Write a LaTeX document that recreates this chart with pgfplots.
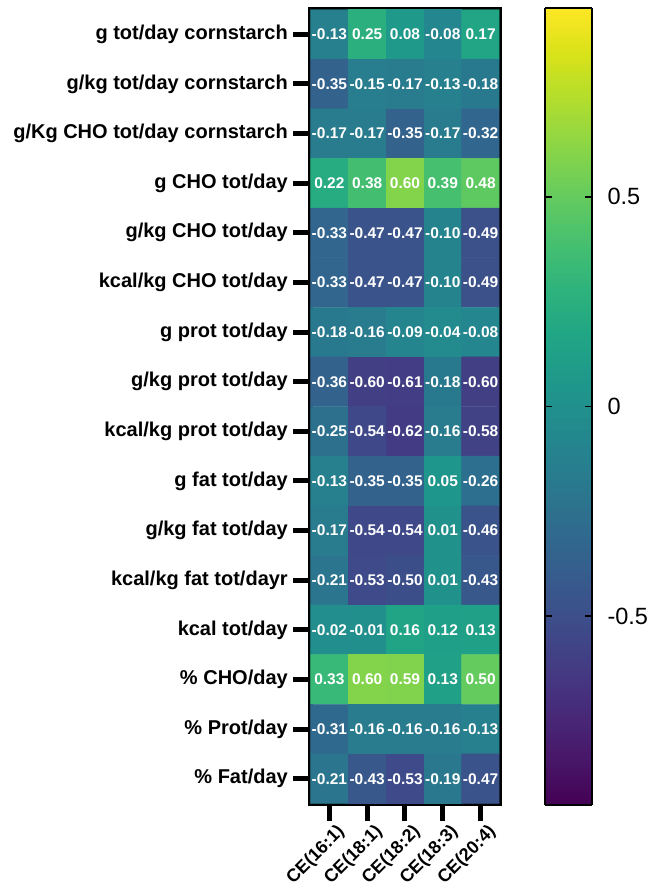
\documentclass[border=0pt]{standalone}
\usepackage{fontspec}
\setmainfont{Liberation Sans}
\usepackage{pgfplots}
\pgfplotsset{compat=1.18}
\usepgfplotslibrary{colormaps}

\pgfplotstableread{
x y c
0 0 -0.13
1 0 0.25
2 0 0.08
3 0 -0.08
4 0 0.17
0 1 -0.35
1 1 -0.15
2 1 -0.17
3 1 -0.13
4 1 -0.18
0 2 -0.17
1 2 -0.17
2 2 -0.35
3 2 -0.17
4 2 -0.32
0 3 0.22
1 3 0.38
2 3 0.60
3 3 0.39
4 3 0.48
0 4 -0.33
1 4 -0.47
2 4 -0.47
3 4 -0.10
4 4 -0.49
0 5 -0.33
1 5 -0.47
2 5 -0.47
3 5 -0.10
4 5 -0.49
0 6 -0.18
1 6 -0.16
2 6 -0.09
3 6 -0.04
4 6 -0.08
0 7 -0.36
1 7 -0.60
2 7 -0.61
3 7 -0.18
4 7 -0.60
0 8 -0.25
1 8 -0.54
2 8 -0.62
3 8 -0.16
4 8 -0.58
0 9 -0.13
1 9 -0.35
2 9 -0.35
3 9 0.05
4 9 -0.26
0 10 -0.17
1 10 -0.54
2 10 -0.54
3 10 0.01
4 10 -0.46
0 11 -0.21
1 11 -0.53
2 11 -0.50
3 11 0.01
4 11 -0.43
0 12 -0.02
1 12 -0.01
2 12 0.16
3 12 0.12
4 12 0.13
0 13 0.33
1 13 0.60
2 13 0.59
3 13 0.13
4 13 0.50
0 14 -0.31
1 14 -0.16
2 14 -0.16
3 14 -0.16
4 14 -0.13
0 15 -0.21
1 15 -0.43
2 15 -0.53
3 15 -0.19
4 15 -0.47
}\heatdata

\begin{document}
\begin{tikzpicture}
\path[use as bounding box] (0,0) rectangle (658pt,-889pt);
\begin{axis}[
  anchor=north west, at={(310.5pt,-9.5pt)},
  scale only axis, width=189pt, height=794pt,
  xmin=-0.5, xmax=4.5, ymin=-0.5, ymax=15.5, y dir=reverse,
  colormap/viridis,
  point meta min=-0.95, point meta max=0.95,
  axis line style={line width=5pt, line join=miter},
  xtick={0,1,2,3,4},
  xticklabels={CE(16:1),CE(18:1),CE(18:2),CE(18:3),CE(20:4)},
  ytick={0,...,15},
  yticklabels={g tot/day cornstarch,g/kg tot/day cornstarch,g/Kg CHO tot/day cornstarch,g CHO tot/day,g/kg CHO tot/day,kcal/kg CHO tot/day,g prot tot/day,g/kg prot tot/day,kcal/kg prot tot/day,g fat tot/day,g/kg fat tot/day,kcal/kg fat tot/dayr,kcal tot/day,\% CHO/day,\% Prot/day,\% Fat/day},
  xtick pos=bottom, ytick pos=left,
  tick align=outside, major tick length=17.5pt,
  tick style={line width=5pt, black},
  yticklabel style={font=\bfseries\fontsize{20}{22}\selectfont, inner sep=2pt, xshift=-3pt},
  xticklabel style={font=\bfseries\fontsize{18}{20}\selectfont, rotate=45, anchor=north east, inner sep=1pt, xshift=4pt, yshift=-5pt},
  nodes near coords={\pgfmathprintnumber[fixed,fixed zerofill,precision=2,assume math mode=true]{\pgfplotspointmeta}},
  every node near coord/.append style={white, anchor=center, inner sep=0pt, font=\bfseries\fontsize{15.5}{17}\selectfont},
  colorbar sampled,
  colorbar style={
    samples=190,
    scale only axis,
    at={(parent axis.north east)}, anchor=north west,
    width=47pt, height=797pt,
    ytick={-0.5,0,0.5},
    yticklabel pos=right,
    yticklabel style={font=\fontsize{23.5}{26}\selectfont, /pgf/number format/assume math mode=true, xshift=12pt},
    axis line style={line width=1.5pt},
    major tick length=7pt, tick align=inside,
    tick style={line width=1.5pt, black},
  },
  colorbar shift/.style={xshift=45.5pt, yshift=1.5pt},
]
\addplot[matrix plot*, mesh/cols=5, point meta=explicit] table[x=x, y=y, meta=c] {\heatdata};
\end{axis}
\end{tikzpicture}
\end{document}
